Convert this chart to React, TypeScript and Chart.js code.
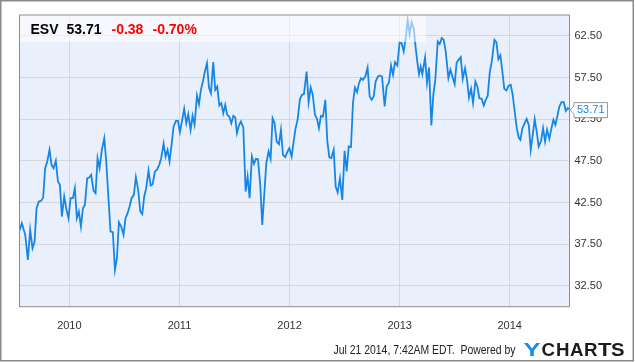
import React, { useEffect, useRef } from 'react';
import { Chart, registerables } from 'chart.js';

Chart.register(...registerables);

const ticker = 'ESV';
const lastPrice = 53.71;
const changeAbs = '-0.38';
const changePct = '-0.70%';
const stampText = 'Jul 21 2014, 7:42AM EDT.  Powered by';

const xMin = 2009.547;
const xMax = 2014.543;
const yMin = 30;
const yMax = 65;
const yTicks = [32.5, 37.5, 42.5, 47.5, 52.5, 57.5, 62.5];
const xTicks = [2010, 2011, 2012, 2013, 2014];
const xTickLabels = ['2010', '2011', '2012', '2013', '2014'];

const dates = [
  2009.547, 2009.568, 2009.599, 2009.623, 2009.644, 2009.665, 2009.684, 2009.702, 2009.723, 2009.744,
  2009.762, 2009.780, 2009.799, 2009.820, 2009.838, 2009.856, 2009.877, 2009.896, 2009.914, 2009.932,
  2009.953, 2009.974, 2009.992, 2010.011, 2010.032, 2010.050, 2010.068, 2010.086, 2010.105, 2010.123,
  2010.141, 2010.162, 2010.180, 2010.198, 2010.220, 2010.238, 2010.256, 2010.274, 2010.295, 2010.317,
  2010.335, 2010.353, 2010.374, 2010.395, 2010.414, 2010.432, 2010.450, 2010.471, 2010.492, 2010.510,
  2010.529, 2010.547, 2010.565, 2010.586, 2010.604, 2010.625, 2010.644, 2010.662, 2010.680, 2010.698,
  2010.719, 2010.738, 2010.756, 2010.777, 2010.795, 2010.816, 2010.834, 2010.856, 2010.874, 2010.892,
  2010.910, 2010.928, 2010.947, 2010.968, 2010.986, 2011.004, 2011.022, 2011.043, 2011.062, 2011.080,
  2011.101, 2011.119, 2011.137, 2011.159, 2011.177, 2011.195, 2011.213, 2011.231, 2011.250, 2011.268,
  2011.286, 2011.307, 2011.325, 2011.343, 2011.362, 2011.380, 2011.398, 2011.416, 2011.434, 2011.452,
  2011.471, 2011.489, 2011.507, 2011.522, 2011.540, 2011.558, 2011.580, 2011.601, 2011.619, 2011.637,
  2011.658, 2011.677, 2011.695, 2011.713, 2011.734, 2011.752, 2011.770, 2011.789, 2011.810, 2011.828,
  2011.846, 2011.864, 2011.883, 2011.904, 2011.922, 2011.940, 2011.961, 2011.979, 2011.998, 2012.019,
  2012.037, 2012.055, 2012.073, 2012.095, 2012.113, 2012.131, 2012.155, 2012.173, 2012.192, 2012.210,
  2012.231, 2012.249, 2012.267, 2012.285, 2012.304, 2012.325, 2012.343, 2012.361, 2012.379, 2012.401,
  2012.419, 2012.437, 2012.458, 2012.479, 2012.500, 2012.519, 2012.537, 2012.558, 2012.576, 2012.594,
  2012.613, 2012.631, 2012.649, 2012.667, 2012.688, 2012.709, 2012.728, 2012.746, 2012.764, 2012.782,
  2012.803, 2012.822, 2012.840, 2012.864, 2012.882, 2012.903, 2012.922, 2012.940, 2012.958, 2012.979,
  2013.000, 2013.018, 2013.037, 2013.055, 2013.073, 2013.091, 2013.109, 2013.128, 2013.146, 2013.164,
  2013.176, 2013.191, 2013.206, 2013.231, 2013.249, 2013.267, 2013.288, 2013.306, 2013.324, 2013.346,
  2013.364, 2013.382, 2013.400, 2013.418, 2013.443, 2013.461, 2013.479, 2013.500, 2013.518, 2013.536,
  2013.555, 2013.573, 2013.594, 2013.612, 2013.630, 2013.649, 2013.667, 2013.688, 2013.706, 2013.724,
  2013.745, 2013.764, 2013.782, 2013.800, 2013.818, 2013.839, 2013.861, 2013.879, 2013.897, 2013.915,
  2013.933, 2013.951, 2013.970, 2013.988, 2014.009, 2014.027, 2014.045, 2014.064, 2014.082, 2014.097,
  2014.115, 2014.136, 2014.154, 2014.173, 2014.191, 2014.209, 2014.227, 2014.245, 2014.263, 2014.285,
  2014.303, 2014.321, 2014.339, 2014.360, 2014.379, 2014.397, 2014.415, 2014.433, 2014.451, 2014.470,
  2014.491, 2014.509, 2014.527, 2014.543,
];

const prices = [
  39.10, 40.02, 38.62, 35.62, 39.22, 37.02, 37.82, 41.82, 42.62, 42.70,
  43.10, 46.62, 47.42, 48.82, 47.02, 46.62, 47.54, 45.02, 44.62, 40.82,
  43.22, 41.62, 40.62, 43.02, 43.02, 44.22, 40.62, 41.42, 39.62, 41.82,
  42.22, 45.42, 45.50, 45.82, 43.90, 43.62, 47.82, 46.62, 48.82, 50.22,
  47.42, 43.42, 39.02, 38.94, 34.42, 35.82, 40.14, 39.62, 38.62, 40.62,
  41.22, 42.02, 43.02, 43.42, 45.54, 44.02, 41.42, 41.10, 43.22, 44.22,
  46.34, 44.54, 44.70, 46.22, 46.42, 47.02, 47.82, 49.58, 48.02, 48.82,
  47.42, 49.42, 51.62, 52.30, 52.30, 50.94, 52.22, 53.74, 52.02, 53.10,
  51.22, 52.90, 51.82, 55.34, 54.30, 56.02, 57.02, 58.22, 59.22, 56.30,
  55.62, 59.34, 56.02, 56.42, 54.14, 54.42, 53.22, 54.22, 53.02, 52.82,
  52.02, 52.90, 52.70, 50.82, 51.74, 52.22, 51.50, 43.82, 45.62, 43.02,
  48.02, 47.14, 47.74, 47.70, 44.62, 39.82, 43.42, 47.22, 48.62, 47.74,
  52.62, 52.02, 49.82, 49.50, 51.22, 48.22, 47.94, 48.54, 49.02, 48.02,
  49.82, 51.42, 52.42, 54.94, 55.42, 55.50, 58.22, 54.54, 56.30, 55.50,
  53.02, 52.54, 51.42, 52.90, 52.82, 54.82, 49.90, 47.94, 47.82, 48.82,
  44.42, 43.70, 45.42, 42.82, 48.70, 46.22, 49.22, 49.14, 54.42, 56.30,
  55.74, 56.82, 57.42, 57.22, 57.62, 58.70, 55.22, 54.82, 55.22, 57.02,
  57.62, 57.74, 57.62, 54.02, 56.42, 56.90, 58.94, 57.82, 59.34, 58.94,
  61.74, 61.62, 60.62, 62.22, 64.42, 62.70, 64.14, 63.42, 61.02, 59.02,
  57.90, 58.82, 57.90, 59.90, 56.82, 58.70, 51.74, 55.42, 57.22, 61.82,
  61.50, 62.22, 62.02, 60.70, 57.42, 58.42, 57.62, 56.70, 59.30, 59.62,
  59.94, 57.34, 58.62, 57.22, 55.10, 56.14, 54.42, 57.02, 56.42, 55.02,
  54.94, 54.14, 54.82, 55.30, 58.02, 59.62, 62.02, 61.74, 59.70, 60.14,
  58.22, 56.14, 55.94, 56.50, 56.62, 55.42, 53.42, 51.42, 50.30, 50.02,
  51.42, 52.02, 52.54, 51.82, 48.82, 50.62, 52.50, 51.02, 49.22, 49.90,
  51.42, 49.82, 51.22, 50.14, 51.42, 52.42, 51.82, 52.90, 54.02, 54.54,
  54.54, 53.50, 53.82, 53.71,
];

const FONT = '"Liberation Sans", Arial, Helvetica, sans-serif';
const LINE_BLUE = '#1686e6';
const PLOT_BG = '#eaf0fb';
const GRID = '#d6d6d6';

const decorPlugin = {
  id: 'decor',
  beforeDraw(chart: any) {
    const { ctx, chartArea: a, width, height } = chart;
    ctx.save();
    ctx.fillStyle = '#ffffff';
    ctx.fillRect(0, 0, width, height);
    ctx.fillStyle = PLOT_BG;
    ctx.fillRect(a.left, a.top, a.right - a.left, a.bottom - a.top);
    ctx.restore();
  },
  afterDatasetsDraw(chart: any) {
    const { ctx, chartArea: a } = chart;
    ctx.save();
    // legend band
    ctx.fillStyle = 'rgba(255,255,255,0.55)';
    ctx.fillRect(a.left, a.top, 426 - a.left, 27);
    ctx.font = `bold 14px ${FONT}`;
    ctx.textBaseline = 'alphabetic';
    ctx.textAlign = 'left';
    ctx.fillStyle = '#000000';
    ctx.fillText(ticker, 30.5, 34);
    ctx.fillText(lastPrice.toFixed(2), 66.5, 34);
    ctx.fillStyle = '#ff0000';
    ctx.fillText(changeAbs, 111.5, 34);
    ctx.fillText(changePct, 152.5, 34);
    // plot border
    ctx.strokeStyle = '#8c8c8c';
    ctx.lineWidth = 1;
    ctx.strokeRect(a.left, a.top, a.right - a.left, a.bottom - a.top);
    ctx.restore();
  },
  afterDraw(chart: any) {
    const { ctx, chartArea: a } = chart;
    const yScale = chart.scales.y;
    const py = yScale.getPixelForValue(lastPrice) + 1;
    ctx.save();
    // price tag
    const x0 = a.right;
    const bx = x0 + 4.5;
    const bx2 = 607.5;
    ctx.beginPath();
    ctx.moveTo(x0 + 0.5, py);
    ctx.lineTo(bx, py - 4);
    ctx.lineTo(bx, py - 7.5);
    ctx.lineTo(bx2, py - 7.5);
    ctx.lineTo(bx2, py + 7.5);
    ctx.lineTo(bx, py + 7.5);
    ctx.lineTo(bx, py + 4);
    ctx.closePath();
    ctx.fillStyle = '#ffffff';
    ctx.fill();
    ctx.strokeStyle = '#9a9a9a';
    ctx.lineWidth = 1;
    ctx.stroke();
    ctx.fillStyle = LINE_BLUE;
    ctx.font = `11px ${FONT}`;
    ctx.textBaseline = 'middle';
    ctx.textAlign = 'left';
    ctx.fillText(lastPrice.toFixed(2), bx + 3, py);

    // footer
    ctx.fillStyle = '#222222';
    ctx.font = `12px ${FONT}`;
    ctx.textBaseline = 'alphabetic';
    const w = ctx.measureText(stampText).width;
    ctx.save();
    ctx.translate(333.5, 354);
    ctx.scale(182 / w, 1);
    ctx.fillText(stampText, 0, 0);
    ctx.restore();

    // YCHARTS logo
    ctx.font = `bold 19px ${FONT}`;
    ctx.fillStyle = '#1a8fe6';
    const wy = ctx.measureText('Y').width;
    ctx.save();
    ctx.translate(523.5, 355.5);
    ctx.scale(17 / wy, 1);
    ctx.fillText('Y', 0, 0);
    ctx.restore();
    ctx.fillStyle = '#1c1c1c';
    const letters = ['C', 'H', 'A', 'R', 'T', 'S'];
    const starts = [541.5, 556, 570, 584, 598, 611];
    letters.forEach((ch, i) => {
      const lw = ctx.measureText(ch).width;
      ctx.save();
      ctx.translate(starts[i], 355.5);
      ctx.scale(13.5 / lw, 1);
      ctx.fillText(ch, 0, 0);
      ctx.restore();
    });

    // outer frame
    ctx.strokeStyle = '#8a8a8a';
    ctx.lineWidth = 1.5;
    ctx.strokeRect(0.75, 0.75, 632.5, 360);
    ctx.restore();
  },
};

export default function App() {
  const canvasRef = useRef<HTMLCanvasElement | null>(null);

  useEffect(() => {
    const canvas = canvasRef.current;
    if (!canvas) return;
    const chart = new Chart(canvas, {
      type: 'line',
      data: {
        datasets: [
          {
            data: dates.map((d, i) => ({ x: d, y: prices[i] })),
            borderColor: LINE_BLUE,
            borderWidth: 1.8,
            pointRadius: 0,
            tension: 0,
            fill: false,
          },
        ],
      },
      options: {
        responsive: false,
        animation: false,
        layout: { padding: { left: 19.5, top: 15, right: 0, bottom: 0 } },
        plugins: { legend: { display: false }, tooltip: { enabled: false } },
        scales: {
          x: {
            type: 'linear',
            min: xMin,
            max: xMax,
            afterBuildTicks: (s: any) => {
              s.ticks = xTicks.map((v) => ({ value: v }));
            },
            afterFit: (s: any) => {
              s.height = 55.3;
            },
            ticks: {
              autoSkip: false,
              maxRotation: 0,
              padding: 13,
              color: '#333333',
              font: { family: FONT, size: 11 },
              callback: (v: any) => {
                const idx = xTicks.indexOf(Number(v));
                return idx >= 0 ? xTickLabels[idx] : '';
              },
            },
            grid: { color: GRID, drawTicks: false, lineWidth: 1 },
            border: { display: false },
          },
          y: {
            type: 'linear',
            position: 'right',
            min: yMin,
            max: yMax,
            afterBuildTicks: (s: any) => {
              s.ticks = yTicks.map((v) => ({ value: v }));
            },
            afterFit: (s: any) => {
              s.width = 65.5;
            },
            ticks: {
              autoSkip: false,
              padding: 5,
              color: '#333333',
              font: { family: FONT, size: 11 },
              callback: (v: any) => Number(v).toFixed(2),
            },
            grid: { color: GRID, drawTicks: false, lineWidth: 1 },
            border: { display: false },
          },
        },
      },
      plugins: [decorPlugin],
    });
    return () => chart.destroy();
  }, []);

  return (
    <div style={{ position: 'absolute', left: 0, top: 0, width: 635, height: 362 }}>
      <canvas ref={canvasRef} width={635} height={362} style={{ display: 'block', width: 635, height: 362 }} />
    </div>
  );
}
